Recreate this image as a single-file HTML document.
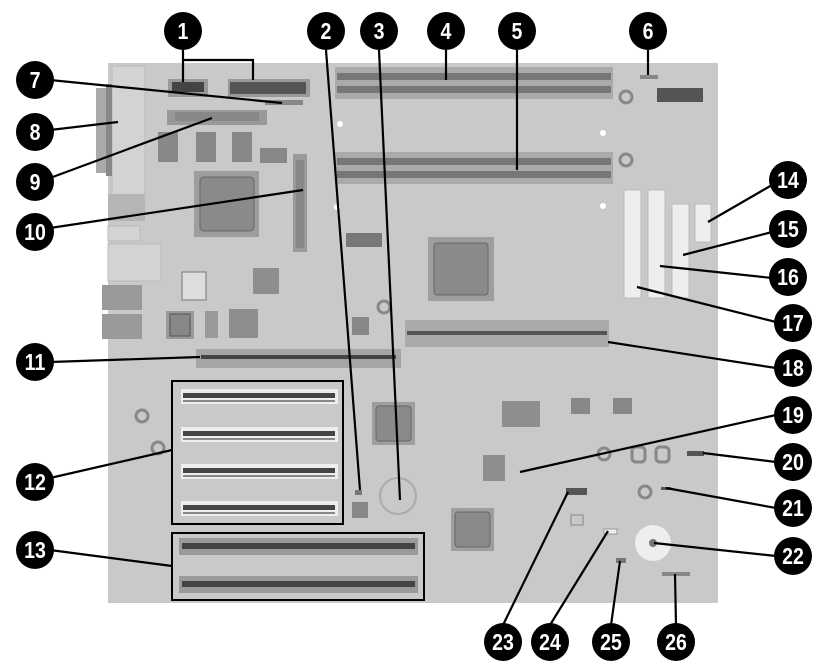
<!DOCTYPE html>
<html><head><meta charset="utf-8"><style>
html,body{margin:0;padding:0;background:#fff;width:820px;height:670px;overflow:hidden}
svg{display:block}
.n{font-family:"Liberation Sans",sans-serif;font-weight:bold;font-size:23px;fill:#fff;text-anchor:middle}
</style></head><body>
<svg width="820" height="670" viewBox="0 0 820 670" xmlns="http://www.w3.org/2000/svg">
<rect x="108" y="63" width="610" height="540" fill="#c9c9c9"/>
<rect x="112" y="66" width="33" height="130" fill="#d3d3d3" stroke="#bbb"/>
<rect x="96" y="88" width="14" height="85" fill="#aaa"/>
<rect x="106" y="84" width="6" height="92" fill="#888"/>
<rect x="108" y="194" width="37" height="27" fill="#b5b5b5"/>
<rect x="108" y="226" width="32" height="15" fill="#d3d3d3" stroke="#bbb"/>
<rect x="108" y="244" width="53" height="37" fill="#d3d3d3" stroke="#bbb"/>
<rect x="102" y="285" width="40" height="25" fill="#999"/>
<rect x="102" y="314" width="40" height="25" fill="#999"/>
<rect x="168" y="79" width="40" height="18" fill="#999"/>
<rect x="172" y="82" width="32" height="10" fill="#444"/>
<rect x="228" y="79" width="82" height="18" fill="#999"/>
<rect x="230" y="82" width="76" height="12" fill="#555"/>
<rect x="265" y="100" width="38" height="5" fill="#888"/>
<rect x="167" y="110" width="100" height="15" fill="#999"/>
<rect x="175" y="112" width="84" height="9" fill="#888"/>
<rect x="158" y="132" width="20" height="30" fill="#888"/>
<rect x="196" y="132" width="20" height="30" fill="#888"/>
<rect x="232" y="132" width="20" height="30" fill="#888"/>
<rect x="260" y="148" width="27" height="15" fill="#888"/>
<rect x="293" y="154" width="14" height="98" fill="#999"/>
<rect x="296" y="160" width="8" height="88" fill="#888"/>
<rect x="194" y="171" width="65" height="66" fill="#9e9e9e"/>
<rect x="200" y="177" width="54" height="54" rx="4" fill="#8a8a8a" stroke="#666"/>
<rect x="346" y="233" width="36" height="14" fill="#777"/>
<rect x="182" y="272" width="24" height="28" fill="#ddd" stroke="#777"/>
<rect x="253" y="268" width="26" height="26" fill="#8e8e8e"/>
<rect x="166" y="311" width="28" height="28" fill="#999"/><rect x="170" y="314" width="20" height="22" fill="#888" stroke="#555"/>
<rect x="205" y="311" width="13" height="27" fill="#999"/>
<rect x="229" y="309" width="29" height="29" fill="#8e8e8e"/>
<circle cx="384" cy="307" r="6" fill="none" stroke="#888" stroke-width="3"/>
<rect x="352" y="317" width="17" height="18" fill="#888"/>
<rect x="335" y="67" width="278" height="32" fill="#aaa"/>
<rect x="337" y="73" width="274" height="7" fill="#777"/>
<rect x="337" y="86" width="274" height="7" fill="#777"/>
<rect x="335" y="152" width="278" height="32" fill="#aaa"/>
<rect x="337" y="158" width="274" height="7" fill="#777"/>
<rect x="337" y="171" width="274" height="7" fill="#777"/>
<circle cx="340" cy="124" r="3" fill="#fff"/><circle cx="337" cy="207" r="3" fill="#fff"/>
<circle cx="603" cy="133" r="3" fill="#fff"/><circle cx="603" cy="206" r="3" fill="#fff"/>
<circle cx="626" cy="97" r="6" fill="none" stroke="#888" stroke-width="3"/>
<circle cx="626" cy="160" r="6" fill="none" stroke="#888" stroke-width="3"/>
<rect x="640" y="75" width="18" height="4" fill="#888"/>
<rect x="657" y="88" width="46" height="14" fill="#555"/>
<rect x="624" y="190" width="17" height="108" fill="#eee" stroke="#bbb"/>
<rect x="648" y="190" width="17" height="108" fill="#eee" stroke="#bbb"/>
<rect x="672" y="204" width="17" height="94" fill="#eee" stroke="#bbb"/>
<rect x="695" y="204" width="16" height="38" fill="#eee" stroke="#bbb"/>
<rect x="428" y="237" width="66" height="64" fill="#9e9e9e"/>
<rect x="434" y="243" width="54" height="52" rx="3" fill="#8a8a8a" stroke="#666"/>
<rect x="405" y="320" width="204" height="27" fill="#aaa"/>
<rect x="407" y="331" width="200" height="4" fill="#555"/>
<rect x="196" y="349" width="205" height="19" fill="#a5a5a5"/>
<rect x="201" y="355" width="195" height="4" fill="#444"/>
<rect x="172" y="381" width="171" height="143" fill="none" stroke="#000" stroke-width="2"/>
<g fill="#eee"><rect x="181" y="389" width="157" height="15"/><rect x="181" y="427" width="157" height="15"/><rect x="181" y="464" width="157" height="15"/><rect x="181" y="501" width="157" height="15"/></g>
<g fill="#444"><rect x="183" y="393" width="152" height="5"/><rect x="183" y="431" width="152" height="5"/><rect x="183" y="468" width="152" height="5"/><rect x="183" y="505" width="152" height="5"/></g>
<g fill="#888"><rect x="183" y="400" width="152" height="2"/><rect x="183" y="438" width="152" height="2"/><rect x="183" y="475" width="152" height="2"/><rect x="183" y="512" width="152" height="2"/></g>
<circle cx="142" cy="416" r="6" fill="none" stroke="#888" stroke-width="3"/>
<circle cx="158" cy="448" r="6" fill="none" stroke="#888" stroke-width="3"/>
<rect x="172" y="533" width="252" height="67" fill="none" stroke="#000" stroke-width="2"/>
<rect x="179" y="538" width="239" height="17" fill="#999"/><rect x="182" y="543" width="233" height="6" fill="#444"/>
<rect x="179" y="576" width="239" height="17" fill="#999"/><rect x="182" y="581" width="233" height="6" fill="#444"/>
<rect x="372" y="402" width="43" height="43" fill="#9e9e9e"/><rect x="376" y="406" width="35" height="35" rx="3" fill="#8a8a8a" stroke="#666"/>
<rect x="355" y="490" width="7" height="5" fill="#777"/>
<rect x="352" y="502" width="16" height="16" fill="#888"/>
<circle cx="398" cy="496" r="18" fill="none" stroke="#aaa" stroke-width="2"/>
<rect x="502" y="401" width="38" height="26" fill="#8e8e8e"/>
<rect x="571" y="398" width="19" height="16" fill="#888"/>
<rect x="613" y="398" width="19" height="16" fill="#888"/>
<rect x="483" y="455" width="22" height="26" fill="#8e8e8e"/>
<circle cx="604" cy="454" r="6" fill="none" stroke="#888" stroke-width="3"/>
<rect x="632" y="447" width="13" height="15" rx="4" fill="none" stroke="#888" stroke-width="3"/>
<rect x="656" y="447" width="13" height="15" rx="4" fill="none" stroke="#888" stroke-width="3"/>
<rect x="687" y="451" width="17" height="5" fill="#555"/>
<circle cx="645" cy="492" r="6" fill="none" stroke="#888" stroke-width="3"/>
<rect x="661" y="487" width="10" height="3" fill="#555"/>
<rect x="566" y="488" width="21" height="7" fill="#555"/>
<rect x="571" y="515" width="12" height="10" fill="none" stroke="#888"/>
<rect x="451" y="508" width="43" height="43" fill="#9e9e9e"/><rect x="455" y="512" width="35" height="35" rx="3" fill="#8a8a8a" stroke="#666"/>
<rect x="604" y="529" width="13" height="5" fill="#eee" stroke="#999"/>
<circle cx="653" cy="543" r="18" fill="#eee"/><circle cx="653" cy="543" r="4" fill="#777"/>
<rect x="616" y="558" width="10" height="5" fill="#777"/>
<rect x="662" y="572" width="28" height="4" fill="#888"/>
<g stroke="#000" stroke-width="2.2" fill="none">
<polyline points="183,50 183,60 253,60 253,80"/><line x1="183" y1="60" x2="183" y2="82"/>
<line x1="326" y1="50" x2="360" y2="490"/>
<line x1="379" y1="50" x2="400" y2="500"/>
<line x1="446" y1="50" x2="446" y2="80"/>
<line x1="517" y1="50" x2="517" y2="170"/>
<line x1="648" y1="50" x2="648" y2="75"/>
<line x1="50" y1="80" x2="282" y2="103"/>
<line x1="50" y1="130" x2="118" y2="122"/>
<line x1="50" y1="178" x2="212" y2="118"/>
<line x1="50" y1="228" x2="303" y2="190"/>
<line x1="50" y1="362" x2="200" y2="357"/>
<line x1="50" y1="478" x2="172" y2="450"/>
<line x1="50" y1="550" x2="172" y2="566"/>
<line x1="772" y1="185" x2="708" y2="222"/>
<line x1="772" y1="232" x2="683" y2="255"/>
<line x1="772" y1="278" x2="660" y2="266"/>
<line x1="776" y1="322" x2="637" y2="287"/>
<line x1="776" y1="368" x2="608" y2="342"/>
<line x1="776" y1="415" x2="520" y2="472"/>
<line x1="776" y1="462" x2="703" y2="453"/>
<line x1="776" y1="508" x2="666" y2="488"/>
<line x1="776" y1="556" x2="654" y2="543"/>
<line x1="503" y1="625" x2="568" y2="492"/>
<line x1="550" y1="625" x2="608" y2="531"/>
<line x1="611" y1="625" x2="620" y2="561"/>
<line x1="676" y1="625" x2="675" y2="574"/>
</g>
<g fill="#000">
<circle cx="183" cy="31" r="19"/><circle cx="326" cy="31" r="19"/><circle cx="379" cy="31" r="19"/><circle cx="446" cy="31" r="19"/><circle cx="517" cy="31" r="19"/><circle cx="648" cy="31" r="19"/>
<circle cx="35" cy="80" r="19"/><circle cx="35" cy="132" r="19"/><circle cx="35" cy="182" r="19"/><circle cx="35" cy="232" r="19"/>
<circle cx="35" cy="362" r="19"/><circle cx="35" cy="482" r="19"/><circle cx="35" cy="550" r="19"/>
<circle cx="788" cy="180" r="19"/><circle cx="788" cy="229" r="19"/><circle cx="788" cy="277" r="19"/><circle cx="793" cy="323" r="19"/><circle cx="793" cy="368" r="19"/><circle cx="793" cy="415" r="19"/><circle cx="793" cy="462" r="19"/><circle cx="793" cy="508" r="19"/><circle cx="793" cy="556" r="19"/>
<circle cx="503" cy="642" r="19"/><circle cx="550" cy="642" r="19"/><circle cx="611" cy="642" r="19"/><circle cx="676" cy="642" r="19"/>
</g>
<g class="n" transform="scale(0.85,1)">
<text x="215.3" y="39">1</text><text x="383.5" y="39">2</text><text x="445.9" y="39">3</text><text x="524.7" y="39">4</text><text x="608.2" y="39">5</text><text x="762.4" y="39">6</text>
<text x="41.2" y="88">7</text><text x="41.2" y="140">8</text><text x="41.2" y="190">9</text><text x="41.2" y="240">10</text>
<text x="41.2" y="370">11</text><text x="41.2" y="490">12</text><text x="41.2" y="558">13</text>
<text x="927.1" y="188">14</text><text x="927.1" y="237">15</text><text x="927.1" y="285">16</text><text x="932.9" y="331">17</text><text x="932.9" y="376">18</text><text x="932.9" y="423">19</text><text x="932.9" y="470">20</text><text x="932.9" y="516">21</text><text x="932.9" y="564">22</text>
<text x="591.8" y="650">23</text><text x="647.1" y="650">24</text><text x="718.8" y="650">25</text><text x="795.3" y="650">26</text>
</g>
</svg>
</body></html>
